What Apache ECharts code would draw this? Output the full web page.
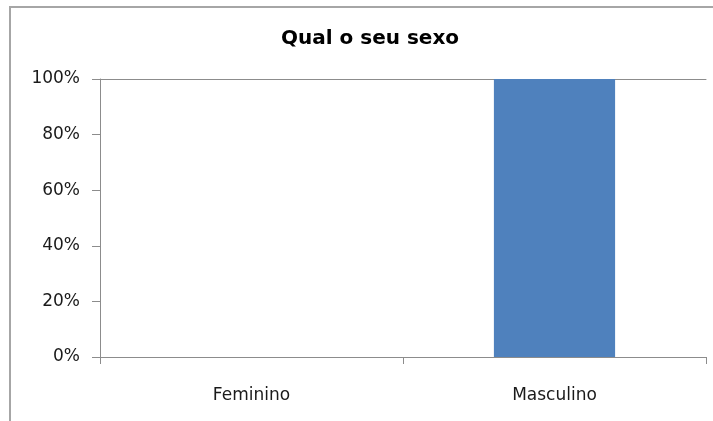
<!DOCTYPE html>
<html>
<head>
<meta charset="utf-8">
<script src="https://cdn.jsdelivr.net/npm/echarts@6/dist/echarts.min.js"></script>
<style>
html,body{margin:0;padding:0;background:#fff;}
#chart{width:713px;height:421px;}
</style>
</head>
<body>
<div id="chart"></div>
<script>
const titleText = 'Qual o seu sexo';
const categories = ['Feminino', 'Masculino'];
const values = [0, 100];
const yTicks = [0, 20, 40, 60, 80, 100];

const chart = echarts.init(document.getElementById('chart'));
const axisColor = '#8c8c8c';
const labelFont = 'DejaVu Sans';
chart.setOption({
  animation: false,
  backgroundColor: '#ffffff',
  graphic: [{
    type: 'rect',
    shape: { x: 10, y: 7, width: 740, height: 450 },
    style: { fill: 'none', stroke: '#a6a6a6', lineWidth: 2 }
  }],
  title: {
    text: titleText,
    left: 365,
    textAlign: 'center',
    top: 24,
    textStyle: { fontFamily: 'DejaVu Sans', fontWeight: 'bold', fontSize: 20, color: '#000' }
  },
  grid: { left: 100, right: 7, top: 79, bottom: 64, containLabel: false },
  xAxis: [{
    type: 'category',
    data: categories,
    axisLine: { show: true, lineStyle: { color: axisColor, width: 1 } },
    axisTick: { show: true, length: 7, lineStyle: { color: axisColor } },
    axisLabel: { margin: 30, fontFamily: labelFont, fontSize: 17, color: '#1a1a1a' }
  }, {
    type: 'category',
    data: categories,
    position: 'top',
    axisLine: { show: true, lineStyle: { color: axisColor, width: 1 } },
    axisTick: { show: false },
    axisLabel: { show: false }
  }],
  yAxis: {
    type: 'value',
    min: yTicks[0],
    max: yTicks[yTicks.length - 1],
    interval: yTicks[1] - yTicks[0],
    axisLine: { show: true, lineStyle: { color: axisColor, width: 1 } },
    axisTick: { show: true, length: 8, lineStyle: { color: axisColor } },
    splitLine: { show: false },
    axisLabel: { margin: 20, formatter: '{value}%', fontFamily: labelFont, fontSize: 17, color: '#1a1a1a' }
  },
  series: [{
    type: 'bar',
    data: values,
    barWidth: '40%',
    itemStyle: { color: '#4f81bd' }
  }]
});
</script>
</body>
</html>
